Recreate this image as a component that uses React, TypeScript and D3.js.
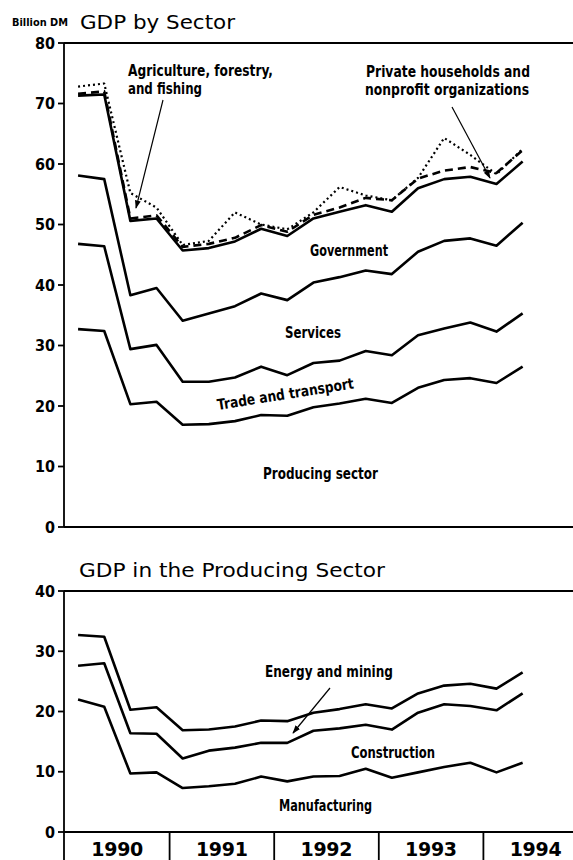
import * as d3 from 'd3';

// quarterly, 1990 Q1 .. 1994 Q2 (values read as the plotted, stacked line heights)
const quarters = [
  '1990Q1', '1990Q2', '1990Q3', '1990Q4',
  '1991Q1', '1991Q2', '1991Q3', '1991Q4',
  '1992Q1', '1992Q2', '1992Q3', '1992Q4',
  '1993Q1', '1993Q2', '1993Q3', '1993Q4',
  '1994Q1', '1994Q2',
];
const years = [1990, 1991, 1992, 1993, 1994];

// top panel: GDP by sector, billion DM (cumulative)
const producing = [32.7, 32.4, 20.3, 20.7, 16.9, 17.0, 17.5, 18.5, 18.4, 19.8, 20.4, 21.2, 20.5, 23.0, 24.3, 24.6, 23.8, 26.5];
const tradeTransport = [46.8, 46.4, 29.4, 30.1, 24.0, 24.0, 24.7, 26.5, 25.1, 27.1, 27.5, 29.1, 28.4, 31.7, 32.8, 33.8, 32.3, 35.3];
const services = [58.1, 57.5, 38.3, 39.5, 34.1, 35.3, 36.5, 38.6, 37.5, 40.4, 41.3, 42.4, 41.8, 45.5, 47.3, 47.7, 46.5, 50.3];
const government = [71.3, 71.5, 50.6, 51.0, 45.7, 46.1, 47.2, 49.3, 48.1, 51.0, 52.1, 53.2, 52.1, 56.0, 57.5, 57.9, 56.7, 60.4];
const privateHouseholds = [71.6, 72.0, 51.0, 51.5, 46.3, 46.8, 47.8, 49.9, 48.8, 51.6, 52.8, 54.4, 54.0, 57.6, 58.9, 59.5, 58.5, 62.3];
const agriculture = [72.8, 73.3, 55.2, 52.8, 46.6, 47.3, 52.0, 50.0, 49.2, 52.0, 56.2, 54.8, 54.0, 57.7, 64.3, 61.5, 58.3, 62.5];

// bottom panel: producing sector (cumulative)
const manufacturing = [22.0, 20.8, 9.7, 9.9, 7.3, 7.6, 8.0, 9.2, 8.4, 9.2, 9.3, 10.5, 9.0, 9.9, 10.8, 11.5, 9.9, 11.5];
const construction = [27.6, 28.0, 16.4, 16.3, 12.2, 13.5, 14.0, 14.8, 14.8, 16.8, 17.2, 17.8, 17.0, 19.8, 21.2, 20.9, 20.2, 23.0];
const energyMining = producing;

const topTicks = [0, 10, 20, 30, 40, 50, 60, 70, 80];
const bottomTicks = [0, 10, 20, 30, 40];

const W = 573;
const H = 860;
const LABEL_FONT = '"Liberation Sans Narrow", "DejaVu Sans Condensed", "Liberation Sans", sans-serif';
const TITLE_FONT = '"DejaVu Sans", sans-serif';

const qTime = (q: string) => +q.slice(0, 4) + (+q.slice(5) - 0.5) / 4;

export default function App() {
  const x = d3.scaleLinear().domain([1990, 1995]).range([65, 588]);
  const yTop = d3.scaleLinear().domain([0, 80]).range([527, 43]);
  const yBot = d3.scaleLinear().domain([0, 40]).range([832, 591]);

  const lineTop = d3.line<number>().x((_, i) => x(qTime(quarters[i]))).y((d) => yTop(d));
  const lineBot = d3.line<number>().x((_, i) => x(qTime(quarters[i]))).y((d) => yBot(d));

  const axisX = x(1990) - 1;

  return (
    <svg
      width={W}
      height={H}
      style={{ position: 'absolute', left: 0, top: 0, background: '#fff' }}
    >
      <defs>
        <marker id="arr" viewBox="0 0 10 10" refX="9" refY="5" markerWidth="7" markerHeight="7" orient="auto">
          <path d="M0,1.5 L10,5 L0,8.5 z" fill="#000" />
        </marker>
      </defs>

      {/* titles */}
      <text x={12} y={26} fontFamily={LABEL_FONT} fontWeight="bold" fontSize={11} textLength={56} lengthAdjust="spacingAndGlyphs">
        Billion DM
      </text>
      <text x={80} y={29} fontFamily={TITLE_FONT} fontSize={20} textLength={155} lengthAdjust="spacingAndGlyphs">
        GDP by Sector
      </text>
      <text x={79} y={577} fontFamily={TITLE_FONT} fontSize={20} textLength={306} lengthAdjust="spacingAndGlyphs">
        GDP in the Producing Sector
      </text>

      {/* top panel frame */}
      <g stroke="#000" strokeWidth={1.8} fill="none">
        <line x1={axisX} x2={axisX} y1={yTop(80)} y2={yTop(0)} />
        <line x1={axisX} x2={W} y1={yTop(80)} y2={yTop(80)} />
        <line x1={axisX} x2={W} y1={yTop(0)} y2={yTop(0)} />
        {topTicks.map((t) => (
          <line key={t} x1={axisX - 6} x2={axisX} y1={yTop(t)} y2={yTop(t)} />
        ))}
      </g>
      {topTicks.map((t) => (
        <text key={t} x={axisX - 9} y={yTop(t) + 5.5} textAnchor="end" fontFamily={LABEL_FONT} fontWeight="bold" fontSize={16}>
          {t}
        </text>
      ))}

      {/* bottom panel frame */}
      <g stroke="#000" strokeWidth={1.8} fill="none">
        <line x1={axisX} x2={axisX} y1={yBot(40)} y2={H} />
        <line x1={axisX} x2={W} y1={yBot(40)} y2={yBot(40)} />
        <line x1={axisX} x2={W} y1={yBot(0)} y2={yBot(0)} />
        {bottomTicks.map((t) => (
          <line key={t} x1={axisX - 6} x2={axisX} y1={yBot(t)} y2={yBot(t)} />
        ))}
        {years.slice(1).map((yr) => (
          <line key={yr} x1={x(yr)} x2={x(yr)} y1={yBot(0)} y2={H} />
        ))}
      </g>
      {bottomTicks.map((t) => (
        <text key={t} x={axisX - 9} y={yBot(t) + 5.5} textAnchor="end" fontFamily={LABEL_FONT} fontWeight="bold" fontSize={16}>
          {t}
        </text>
      ))}
      {years.map((yr) => (
        <text
          key={yr}
          x={x(yr + 0.5) - 26}
          y={856}
          fontFamily={TITLE_FONT}
          fontWeight="bold"
          fontSize={19}
          textLength={52}
          lengthAdjust="spacing"
        >
          {yr}
        </text>
      ))}

      {/* top panel lines */}
      <g fill="none" stroke="#000" strokeLinejoin="round">
        <path d={lineTop(producing) ?? ''} strokeWidth={2.6} />
        <path d={lineTop(tradeTransport) ?? ''} strokeWidth={2.6} />
        <path d={lineTop(services) ?? ''} strokeWidth={2.6} />
        <path d={lineTop(government) ?? ''} strokeWidth={2.6} />
        <path d={lineTop(privateHouseholds) ?? ''} strokeWidth={2.6} strokeDasharray="8 5" />
        <path d={lineTop(agriculture) ?? ''} strokeWidth={2.2} strokeDasharray="2 3" />
      </g>

      {/* bottom panel lines */}
      <g fill="none" stroke="#000" strokeLinejoin="round" strokeWidth={2.6}>
        <path d={lineBot(manufacturing) ?? ''} />
        <path d={lineBot(construction) ?? ''} />
        <path d={lineBot(energyMining) ?? ''} />
      </g>

      {/* annotations */}
      <g fontFamily={LABEL_FONT} fontWeight="bold" fontSize={15}>
        <text x={128} y={76} textLength={145} lengthAdjust="spacingAndGlyphs">Agriculture, forestry,</text>
        <text x={128} y={94} textLength={74} lengthAdjust="spacingAndGlyphs">and fishing</text>
        <text x={366} y={77} textLength={164} lengthAdjust="spacingAndGlyphs">Private households and</text>
        <text x={365} y={95} textLength={164} lengthAdjust="spacingAndGlyphs">nonprofit organizations</text>
        <text x={310} y={256} textLength={78} lengthAdjust="spacingAndGlyphs">Government</text>
        <text x={285} y={338} textLength={56} lengthAdjust="spacingAndGlyphs">Services</text>
        <text x={218} y={410} textLength={138} lengthAdjust="spacingAndGlyphs" transform="rotate(-9 218 410)">
          Trade and transport
        </text>
        <text x={263} y={479} textLength={115} lengthAdjust="spacingAndGlyphs">Producing sector</text>
        <text x={265} y={677} textLength={128} lengthAdjust="spacingAndGlyphs">Energy and mining</text>
        <text x={351} y={758} textLength={84} lengthAdjust="spacingAndGlyphs">Construction</text>
        <text x={279} y={811} textLength={93} lengthAdjust="spacingAndGlyphs">Manufacturing</text>
      </g>
      <g stroke="#000" strokeWidth={1.2} fill="none">
        <line x1={163} y1={100} x2={136} y2={208} markerEnd="url(#arr)" />
        <line x1={452} y1={107} x2={490} y2={178} markerEnd="url(#arr)" />
        <line x1={330} y1={688} x2={293} y2={733} markerEnd="url(#arr)" />
      </g>
    </svg>
  );
}
